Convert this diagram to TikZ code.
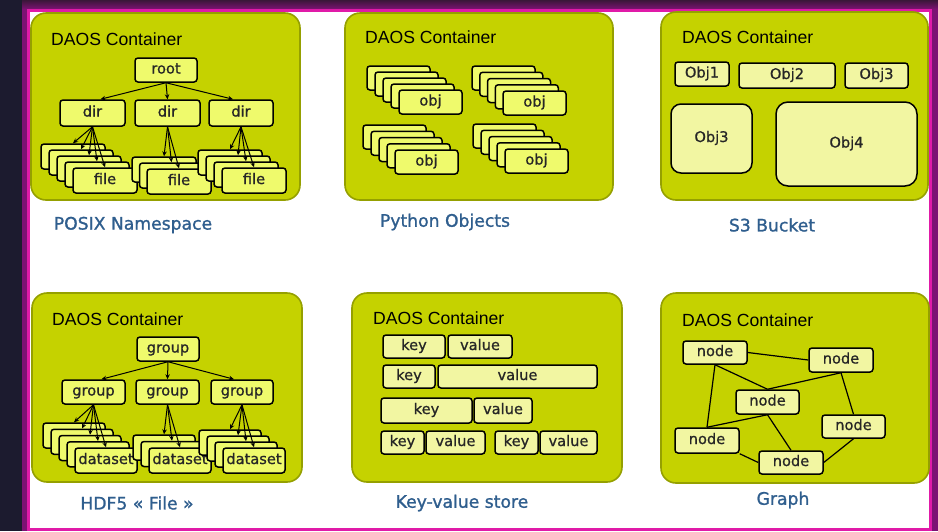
\documentclass[tikz,border=0pt]{standalone}
\usepackage{fontspec}
\setmainfont{DejaVu Sans}
\newfontfamily\hfont{Liberation Sans}
\newfontfamily\ifont[FakeBold=0.8]{DejaVu Sans}
\newfontfamily\cfont[FakeBold=1.2]{DejaVu Sans}
\usetikzlibrary{arrows.meta,calc}
\definecolor{cfill}{HTML}{C5D200}
\definecolor{cdraw}{HTML}{95A000}
\definecolor{boxA}{HTML}{EFFA6C}
\definecolor{boxB}{HTML}{F2F6A2}
\definecolor{capcol}{HTML}{2F5E8E}
\definecolor{navy}{HTML}{1C1B2F}
\definecolor{purp}{HTML}{7C1273}
\definecolor{topdark}{HTML}{3A1738}
\definecolor{magen}{HTML}{E01AA8}
\tikzset{
  cont/.style={draw=cdraw, line width=1.6pt, fill=cfill, rounded corners=15pt, inner sep=0pt},
  ibox/.style={draw=black, line width=1.5pt, fill=boxA, rounded corners=3pt, inner sep=0pt,
    font=\ifont\fontsize{14.6}{16}\selectfont, text=black!85, text height=10pt, text depth=3pt},
  pbox/.style={ibox, fill=boxB},
  dlab/.style={font=\hfont\fontsize{17.6}{20}\selectfont, anchor=base west, inner sep=0pt},
  capt/.style={text=capcol, font=\cfont\fontsize{17.2}{20}\selectfont, inner sep=0pt},
  arr/.style={-{Stealth[length=5pt,width=4.5pt]}, line width=1pt},
  edge/.style={line width=1.2pt},
}
% generic box: [opts]{name}{x1}{y1}{x2}{y2}{text}
\newcommand\ib[7][]{\node[ibox,minimum width={(#5)-(#3)},minimum height={(#6)-(#4)},#1] (#2) at ({((#3)+(#5))/2},{((#4)+(#6))/2}) {#7};}
% stack: {name}{x0}{y0}{n}{dx}{dy}{w}{h}{text}
\newcommand\stk[9]{%
  \foreach \i in {1,...,#4}{%
    \pgfmathsetmacro\sx{#2+(\i-1)*#5}%
    \pgfmathsetmacro\sy{#3+(\i-1)*#6}%
    \ifnum\i=#4\relax\def\st{#9}\else\def\st{}\fi
    \node[ibox,minimum width=#7,minimum height=#8] (#1-\i) at ({\sx+#7/2},{\sy+#8/2}) {\st};
  }}
\newcommand\fan[3]{\foreach \i in {1,...,#3}{\draw[arr] (#1.south) -- (#2-\i.north);}}
\begin{document}
\begin{tikzpicture}[x=1pt,y=-1pt]
\useasboundingbox (0,0) rectangle (938,531);
% frame
\fill[navy] (0,0) rectangle (938,531);
\fill[purp] (22,0) rectangle (938,531);
\shade[top color=topdark, bottom color=purp] (22,0) rectangle (938,9);
\fill[magen] (27,9) rectangle (932,531);
\fill[white] (30,12) rectangle (929,528);

% ---------- containers ----------
\ib[cont]{c1}{31}{13}{300}{200}{}
\ib[cont]{c2}{345}{13}{613}{200}{}
\ib[cont]{c3}{661}{12}{928}{200}{}
\ib[cont]{c4}{32}{293}{302}{482}{}
\ib[cont]{c5}{352}{293}{622}{482}{}
\ib[cont]{c6}{661}{293}{929}{483}{}
\node[dlab] (t1) at (51,45) {DAOS Container};
\node[dlab] (t2) at (365,43) {DAOS Container};
\node[dlab] (t3) at (682,43) {DAOS Container};
\node[dlab] (t4) at (52,325) {DAOS Container};
\node[dlab] (t5) at (373,324) {DAOS Container};
\node[dlab] (t6) at (682,326) {DAOS Container};

% ---------- captions ----------
\node[capt] (k1) at (133,225) {POSIX Namespace};
\node[capt] (k2) at (445,222) {Python Objects};
\node[capt] (k3) at (772,225) {S3 Bucket};
\node[capt] (k4) at (137,503) {HDF5 « File »};
\node[capt] (k5) at (462,503) {Key-value store};
\node[capt] (k6) at (783,500) {Graph};

% ---------- POSIX ----------
\ib{root}{135}{58}{197}{82}{root}
\ib{d1}{60}{100}{125}{126}{dir}
\ib{d2}{135}{100}{200}{126}{dir}
\ib{d3}{209}{100}{273}{126}{dir}
\draw[arr] (root.south) -- ($(d1.north)+(8,0)$);
\draw[arr] (root.south) -- (d2.north);
\draw[arr] (root.south) -- ($(d3.north)+(-8,0)$);
\stk{fa}{41}{144}{5}{8}{6}{64}{25}{file}
\stk{fb}{132}{157}{3}{7.5}{6}{64}{25}{file}
\stk{fc}{198}{150}{4}{8}{6}{64}{25}{file}
\fan{d1}{fa}{5}
\fan{d2}{fb}{3}
\fan{d3}{fc}{4}

% ---------- Python objects ----------
\stk{pa}{367}{66}{5}{8}{6}{63}{24}{obj}
\stk{pb}{472}{66}{5}{7.75}{6.25}{63}{24}{obj}
\stk{pc}{363}{125}{5}{8}{6.25}{63}{24}{obj}
\stk{pd}{473}{124}{5}{8}{6.25}{63}{24}{obj}

% ---------- S3 ----------
\ib[pbox]{o1}{675}{62}{729}{86}{Obj1}
\ib[pbox]{o2}{739}{63}{835}{88}{Obj2}
\ib[pbox]{o3}{845}{63}{908}{88}{Obj3}
\ib[pbox,rounded corners=10pt]{o3b}{671}{104}{752}{173}{Obj3}
\ib[pbox,rounded corners=12pt]{o4}{776}{102}{917}{186}{Obj4}

% ---------- HDF5 ----------
\ib{g0}{137}{337}{199}{361}{group}
\ib{g1}{62}{380}{125}{404}{group}
\ib{g2}{136}{380}{199}{404}{group}
\ib{g3}{211}{380}{273}{404}{group}
\draw[arr] (g0.south) -- ($(g1.north)+(8,0)$);
\draw[arr] (g0.south) -- (g2.north);
\draw[arr] (g0.south) -- ($(g3.north)+(-8,0)$);
\stk{ha}{43}{423}{5}{8}{6.25}{62}{25}{dataset}
\stk{hb}{133}{435}{3}{8}{6.5}{62}{25}{dataset}
\stk{hc}{199}{430}{4}{8}{6}{62}{25}{dataset}
\fan{g1}{ha}{5}
\fan{g2}{hb}{3}
\fan{g3}{hc}{4}

% ---------- Key-value ----------
\ib[pbox]{k1a}{383}{335}{445}{358}{key}
\ib[pbox]{v1a}{448}{335}{512}{358}{value}
\ib[pbox]{k2a}{383}{365}{435}{388}{key}
\ib[pbox]{v2a}{438}{365}{597}{388}{value}
\ib[pbox]{k3a}{381}{398}{472}{423}{key}
\ib[pbox]{v3a}{474}{398}{532}{423}{value}
\ib[pbox]{k4a}{381}{431}{424}{454}{key}
\ib[pbox]{v4a}{426}{431}{485}{454}{value}
\ib[pbox]{k4b}{495}{431}{538}{454}{key}
\ib[pbox]{v4b}{540}{431}{597}{454}{value}

% ---------- Graph ----------
\ib[pbox]{n1}{683}{341}{747}{364}{node}
\ib[pbox]{n2}{809}{348}{873}{372}{node}
\ib[pbox]{n3}{736}{390}{799}{414}{node}
\ib[pbox]{n4}{822}{415}{885}{438}{node}
\ib[pbox]{n5}{675}{428}{739}{453}{node}
\ib[pbox]{n6}{759}{451}{823}{474}{node}
\draw[edge] (n1.east) -- (n2.west);
\draw[edge] (n1.south) -- (n3.north);
\draw[edge] (n2.south) -- (n3.north);
\draw[edge] (n1.south) -- (n5.north);
\draw[edge] (n3.south) -- (n5.north);
\draw[edge] (n3.south) -- (n6.north);
\draw[edge] (n5.south east) -- (n6.west);
\draw[edge] (n2.south) -- (n4.north);
\draw[edge] (n4.south) -- (n6.east);
\end{tikzpicture}
\end{document}
